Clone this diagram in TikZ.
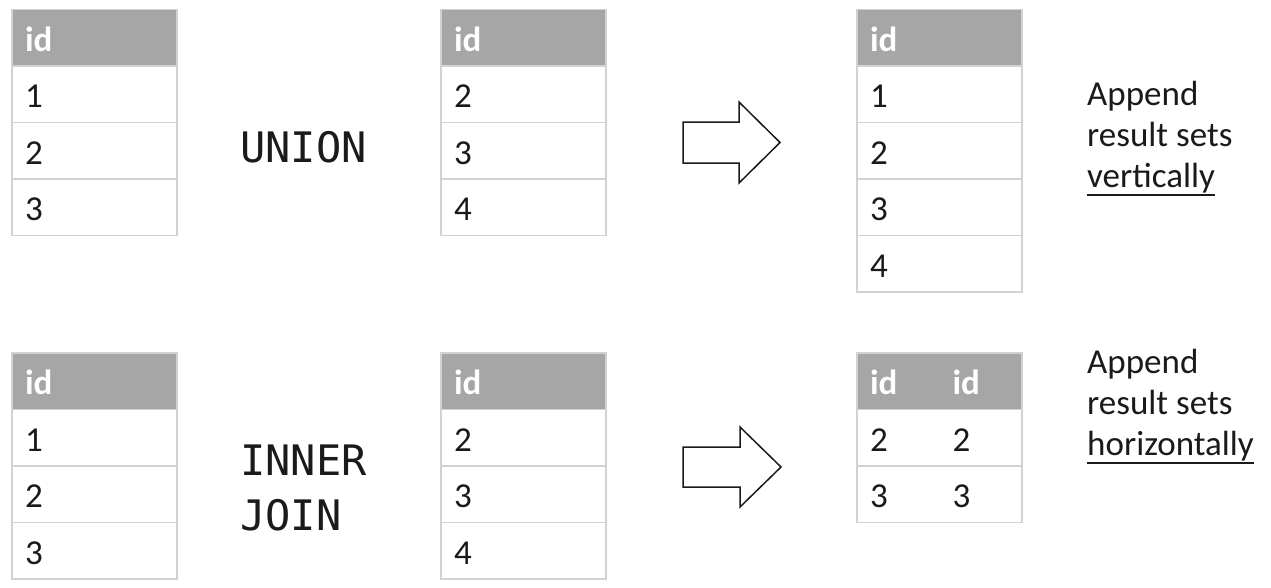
\documentclass[tikz,border=0pt]{standalone}
\usepackage{fontspec}
\setmainfont{Carlito}
\newfontfamily\monofnt{DejaVu Sans Mono}
\newlength\ulwd
\newcommand\myul[1]{\settowidth\ulwd{#1}\makebox[0pt][l]{\rule[-9pt]{\ulwd}{1.8pt}}#1}
\definecolor{cellline}{HTML}{D2D2D2}
\definecolor{headfill}{HTML}{A6A6A6}
\definecolor{inkc}{HTML}{1A1A1A}
\tikzset{
  cell/.style={draw=cellline, line width=1.2pt, fill=white, minimum height=56.5pt,
    text width=139pt, inner xsep=13pt, inner ysep=0pt, align=left,
    text height=27pt, text depth=0pt, text=inkc,
    font=\fontsize{35}{41}\selectfont},
  headcell/.style={cell, fill=headfill, text=white, font=\fontsize{35}{41}\selectfont\bfseries},
  optext/.style={anchor=base west, inner sep=0pt, text=inkc, align=left,
    font=\fontsize{42}{55}\selectfont\monofnt},
  note/.style={anchor=base west, inner sep=0pt, text=inkc, align=left,
    font=\fontsize{35}{41}\selectfont},
  blockarrow/.style={draw=inkc, line width=1.5pt, fill=white, line join=miter}
}
\begin{document}
\begin{tikzpicture}[x=1pt,y=-1pt]
\useasboundingbox (0,0) rectangle (1271,587);
% ---------- top row ----------
% table A
\node[headcell] (a0) at (94.5,37.75) {id};
\node[cell] (a1) at (94.5,94.25) {1};
\node[cell] (a2) at (94.5,150.75) {2};
\node[cell] (a3) at (94.5,207.25) {3};
% UNION
\node[optext] (union) at (240,162) {UNION};
% table B
\node[headcell] (b0) at (523.5,37.75) {id};
\node[cell] (b1) at (523.5,94.25) {2};
\node[cell] (b2) at (523.5,150.75) {3};
\node[cell] (b3) at (523.5,207.25) {4};
% arrow
\draw[blockarrow] (683,122) -- (739,122) -- (739,102) -- (780,142.5) -- (739,183) -- (739,163) -- (683,163) -- cycle;
% table C
\node[headcell] (c0) at (939.5,37.75) {id};
\node[cell] (c1) at (939.5,94.25) {1};
\node[cell] (c2) at (939.5,150.75) {2};
\node[cell] (c3) at (939.5,207.25) {3};
\node[cell] (c4) at (939.5,263.75) {4};
\node[note] (vnote) at (1087,187) {Append\\result sets\\\myul{vertically}};
% ---------- bottom row ----------
\node[headcell] (d0) at (94.5,381.25) {id};
\node[cell] (d1) at (94.5,437.75) {1};
\node[cell] (d2) at (94.5,494.25) {2};
\node[cell] (d3) at (94.5,550.75) {3};
\node[optext] (join) at (240,530) {INNER\\JOIN};
\node[headcell] (e0) at (523.5,381.25) {id};
\node[cell] (e1) at (523.5,437.75) {2};
\node[cell] (e2) at (523.5,494.25) {3};
\node[cell] (e3) at (523.5,550.75) {4};
\draw[blockarrow] (683,447) -- (740,447) -- (740,427) -- (781,467) -- (740,507) -- (740,487) -- (683,487) -- cycle;
\node[headcell] (f0) at (939.5,381.25) {\makebox[82.5pt][l]{id}id};
\node[cell] (f1) at (939.5,437.75) {\makebox[82.5pt][l]{2}2};
\node[cell] (f2) at (939.5,494.25) {\makebox[82.5pt][l]{3}3};
\node[note] (hnote) at (1087,455) {Append\\result sets\\\myul{horizontally}};
\end{tikzpicture}
\end{document}
